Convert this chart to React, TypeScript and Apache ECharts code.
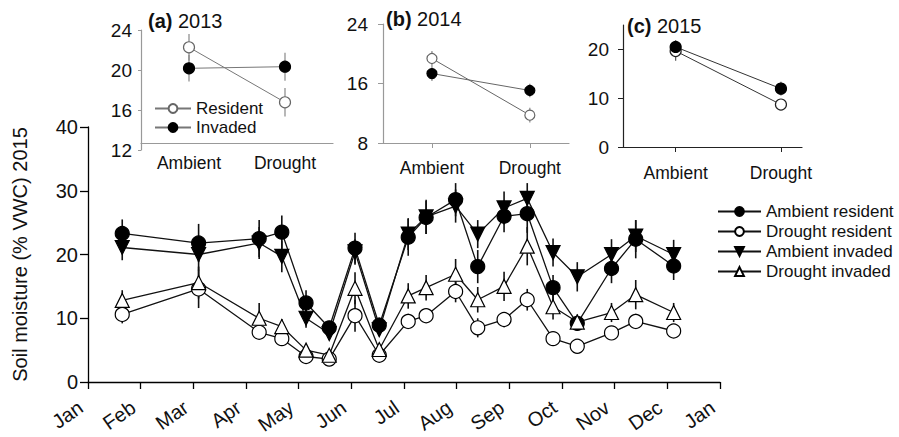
import React, { useEffect, useRef } from 'react';
import * as echarts from 'echarts';

const FONT = '"Liberation Sans", Arial, Helvetica, sans-serif';

// ---- main panel data ----
const monthTickLabels = ['Jan', 'Feb', 'Mar', 'Apr', 'May', 'Jun', 'Jul', 'Aug', 'Sep', 'Oct', 'Nov', 'Dec', 'Jan'];
// sampling dates as fractional months since 1 Jan
const sampleMonths = [0.65, 2.1, 3.25, 3.68, 4.14, 4.58, 5.07, 5.53, 6.08, 6.42, 6.98, 7.4, 7.9, 8.34, 8.83, 9.29, 9.94, 10.4, 11.12];

const ambientResident = [23.3, 21.8, 22.5, 23.5, 12.4, 8.5, 21.0, 8.9, 22.7, 25.8, 28.6, 18.1, 26.0, 26.4, 14.8, 9.2, 17.8, 22.4, 18.2];
const ambientResidentSE = [2.2, 3.0, 2.9, 2.6, 2.0, 1.0, 2.4, 1.2, 2.9, 2.6, 2.6, 2.6, 2.5, 3.0, 2.0, 1.2, 2.3, 3.0, 2.2];
const droughtResident = [10.6, 14.6, 7.8, 6.8, 4.0, 3.6, 10.4, 4.2, 9.5, 10.4, 14.2, 8.5, 9.8, 12.9, 6.8, 5.6, 7.7, 9.5, 8.0];
const droughtResidentSE = [1.4, 3.0, 1.0, 1.0, 0.6, 0.5, 2.5, 0.6, 1.2, 1.0, 1.7, 1.5, 1.2, 1.7, 1.0, 0.6, 1.0, 1.2, 1.0];
const ambientInvaded = [21.1, 20.0, 21.8, 19.7, 10.0, 7.6, 20.4, 8.2, 23.2, 25.9, 27.6, 23.2, 27.3, 28.8, 20.3, 16.5, 20.0, 22.9, 20.0];
const ambientInvadedSE = [2.0, 2.5, 2.5, 2.5, 1.5, 1.0, 2.0, 1.0, 2.5, 2.7, 2.6, 2.2, 2.6, 2.4, 2.2, 2.3, 2.4, 2.5, 2.3];
const droughtInvaded = [12.8, 15.6, 10.0, 8.7, 5.0, 4.2, 14.7, 5.1, 13.5, 14.8, 16.9, 12.9, 15.0, 21.3, 11.8, 9.4, 10.9, 13.7, 10.9];
const droughtInvadedSE = [1.6, 2.5, 2.4, 1.2, 0.8, 0.6, 2.5, 0.8, 2.0, 2.0, 2.4, 2.0, 2.3, 3.0, 2.0, 1.2, 1.5, 2.3, 1.5];

const yTitle = 'Soil moisture (% VWC) 2015';

// ---- inset data ----
const insetCategories = ['Ambient', 'Drought'];
const insetX = [1, 2];

const resident2013 = [22.27, 16.77];
const resident2013SE = [1.33, 1.43];
const invaded2013 = [20.17, 20.33];
const invaded2013SE = [1.33, 1.4];

const resident2014 = [19.36, 11.74];
const resident2014SE = [1.0, 1.0];
const invaded2014 = [17.34, 15.06];
const invaded2014SE = [1.0, 0.9];

const resident2015 = [19.67, 8.7];
const resident2015SE = [2.0, 1.1];
const invaded2015 = [20.5, 11.96];
const invaded2015SE = [1.4, 1.4];

const ticks2013 = [12, 16, 20, 24];
const ticks2014 = [8, 16, 24];
const ticks2015 = [0, 10, 20];

function errorSeries(xIdx: number, yIdx: number, xs: number[], ys: number[], es: number[], color: string, width: number, z: number) {
  return {
    type: 'custom',
    xAxisIndex: xIdx,
    yAxisIndex: yIdx,
    z,
    silent: true,
    data: xs.map((x, i) => [x, ys[i], es[i]]),
    encode: { x: 0, y: 1 },
    renderItem: (params: any, api: any) => {
      const x = api.value(0);
      const y = api.value(1);
      const e = api.value(2);
      const a = api.coord([x, y - e]);
      const b = api.coord([x, y + e]);
      return {
        type: 'line',
        shape: { x1: a[0], y1: a[1], x2: b[0], y2: b[1] },
        style: { stroke: color, lineWidth: width },
      };
    },
  };
}

function lineSeries(name: string, xIdx: number, xs: number[], ys: number[], symbol: string, rotate: number, fill: string, border: string, lineColor: string, lineWidth: number, size: number) {
  return {
    type: 'line',
    name,
    xAxisIndex: xIdx,
    yAxisIndex: xIdx,
    z: 5,
    data: xs.map((x, i) => [x, ys[i]]),
    symbol,
    symbolRotate: rotate,
    symbolSize: size,
    showAllSymbol: true,
    color: lineColor,
    lineStyle: { color: lineColor, width: lineWidth },
    itemStyle: { color: fill, borderColor: border, borderWidth: 1.2, opacity: 1 },
    emphasis: { disabled: true },
  };
}

function buildOption() {
  const txt = '#111';
  const mainDefs = [
    { name: 'Ambient resident', v: ambientResident, e: ambientResidentSE, symbol: 'circle', rot: 0, fill: '#000' },
    { name: 'Drought resident', v: droughtResident, e: droughtResidentSE, symbol: 'circle', rot: 0, fill: '#fff' },
    { name: 'Ambient invaded', v: ambientInvaded, e: ambientInvadedSE, symbol: 'triangle', rot: 180, fill: '#000' },
    { name: 'Drought invaded', v: droughtInvaded, e: droughtInvadedSE, symbol: 'triangle', rot: 0, fill: '#fff' },
  ];

  const series: any[] = [];
  mainDefs.forEach((d) => {
    series.push(errorSeries(0, 0, sampleMonths, d.v, d.e, '#111', 1.6, 2));
  });
  mainDefs.forEach((d) => {
    series.push(lineSeries(d.name, 0, sampleMonths, d.v, d.symbol, d.rot, d.fill, '#000', '#111', 1.3, 14));
  });

  const insets = [
    { idx: 1, res: resident2013, resE: resident2013SE, inv: invaded2013, invE: invaded2013SE, line: '#777', err: '#888', size: 11 },
    { idx: 2, res: resident2014, resE: resident2014SE, inv: invaded2014, invE: invaded2014SE, line: '#666', err: '#888', size: 10 },
    { idx: 3, res: resident2015, resE: resident2015SE, inv: invaded2015, invE: invaded2015SE, line: '#333', err: '#555', size: 11 },
  ];
  insets.forEach((s) => {
    series.push(errorSeries(s.idx, s.idx, insetX, s.res, s.resE, s.err, 1.2, 2));
    series.push(errorSeries(s.idx, s.idx, insetX, s.inv, s.invE, s.err, 1.2, 2));
    series.push(lineSeries('Resident', s.idx, insetX, s.res, 'circle', 0, '#fff', s.idx === 3 ? '#222' : '#666', s.line, 1, s.size));
    series.push(lineSeries('Invaded', s.idx, insetX, s.inv, 'circle', 0, '#000', '#000', s.line, 1, s.size));
  });

  const insetXAxis = (gridIndex: number, max: number, color: string, offset: number, margin: number, showTick: boolean) => ({
    type: 'value',
    gridIndex,
    min: 0.5,
    max,
    offset,
    splitLine: { show: false },
    axisLine: { show: true, onZero: false, lineStyle: { color, width: 1.2 } },
    axisTick: { show: showTick, customValues: insetX, inside: false, length: 5, lineStyle: { color } },
    axisLabel: {
      customValues: insetX,
      formatter: (v: number) => insetCategories[Math.round(v) - 1] || '',
      fontSize: 17.5,
      fontFamily: FONT,
      color: txt,
      margin,
    },
  });

  const insetYAxis = (gridIndex: number, min: number, max: number, ticks: number[], color: string, margin: number, tickLen: number) => ({
    type: 'value',
    gridIndex,
    min,
    max,
    splitLine: { show: false },
    axisLine: { show: true, onZero: false, lineStyle: { color, width: 1.2 } },
    axisTick: { show: true, customValues: ticks, length: tickLen, lineStyle: { color } },
    axisLabel: { customValues: ticks, fontSize: 19, fontFamily: FONT, color: txt, margin },
  });

  return {
    animation: false,
    backgroundColor: '#fff',
    textStyle: { fontFamily: FONT },
    title: [
      { text: '{b|(a)} 2013', left: 148, top: 11, padding: 0, textStyle: { fontSize: 20, fontWeight: 'normal', fontFamily: FONT, color: txt, rich: { b: { fontSize: 20, fontWeight: 'bold', fontFamily: FONT, color: txt } } } },
      { text: '{b|(b)} 2014', left: 386, top: 9, padding: 0, textStyle: { fontSize: 20, fontWeight: 'normal', fontFamily: FONT, color: txt, rich: { b: { fontSize: 20, fontWeight: 'bold', fontFamily: FONT, color: txt } } } },
      { text: '{b|(c)} 2015', left: 627, top: 16, padding: 0, textStyle: { fontSize: 20, fontWeight: 'normal', fontFamily: FONT, color: txt, rich: { b: { fontSize: 20, fontWeight: 'bold', fontFamily: FONT, color: txt } } } },
    ],
    legend: [
      {
        data: mainDefs.map((d) => d.name),
        orient: 'vertical',
        left: 717,
        top: 203,
        padding: 0,
        itemWidth: 43,
        itemHeight: 11,
        itemGap: 3,
        selectedMode: false,
        textStyle: { fontSize: 17, lineHeight: 17, fontFamily: FONT, color: txt },
      },
      {
        data: ['Resident', 'Invaded'],
        orient: 'vertical',
        left: 154,
        top: 100,
        padding: 0,
        itemWidth: 36,
        itemHeight: 11,
        itemGap: 2,
        selectedMode: false,
        textStyle: { fontSize: 17, lineHeight: 17, fontFamily: FONT, color: txt },
      },
    ],
    grid: [
      { left: 88, top: 127, width: 632, height: 255, outerBoundsMode: 'none', containLabel: false },
      { left: 141, top: 30, width: 192, height: 120, outerBoundsMode: 'none', containLabel: false },
      { left: 383, top: 24, width: 186, height: 119, outerBoundsMode: 'none', containLabel: false },
      { left: 623, top: 25, width: 179, height: 122, outerBoundsMode: 'none', containLabel: false },
    ],
    xAxis: [
      {
        type: 'value',
        gridIndex: 0,
        min: 0,
        max: 12,
        interval: 1,
        splitLine: { show: false },
        axisLine: { show: true, onZero: false, lineStyle: { color: '#000', width: 1.3 } },
        axisTick: { show: true, length: 7, lineStyle: { color: '#000', width: 1.3 } },
        axisLabel: {
          rotate: 35,
          fontSize: 20,
          fontFamily: FONT,
          color: txt,
          margin: 18,
          padding: [0, 9, 0, 0],
          showMinLabel: true,
          showMaxLabel: true,
          formatter: (v: number) => monthTickLabels[Math.round(v)] || '',
        },
      },
      insetXAxis(1, 2.5, '#999', -7, 11, false),
      insetXAxis(2, 2.4, '#999', 0, 16, true),
      insetXAxis(3, 2.2, '#222', 0, 17, true),
    ],
    yAxis: [
      {
        type: 'value',
        gridIndex: 0,
        min: 0,
        max: 40,
        interval: 10,
        name: yTitle,
        nameLocation: 'middle',
        nameGap: 58,
        nameTextStyle: { fontSize: 20, fontFamily: FONT, color: txt },
        splitLine: { show: false },
        axisLine: { show: true, onZero: false, lineStyle: { color: '#000', width: 1.3 } },
        axisTick: { show: true, length: 8, lineStyle: { color: '#000', width: 1.3 } },
        axisLabel: { fontSize: 20, fontFamily: FONT, color: txt, margin: 10 },
      },
      insetYAxis(1, 12, 24, ticks2013, '#999', 9, 3),
      insetYAxis(2, 8, 24, ticks2014, '#999', 15, 5),
      insetYAxis(3, 0, 25, ticks2015, '#222', 14, 5),
    ],
    series,
  };
}

export default function App() {
  const ref = useRef<HTMLDivElement>(null);
  useEffect(() => {
    if (!ref.current) return;
    const chart = echarts.init(ref.current, undefined, { renderer: 'svg' });
    chart.setOption(buildOption() as any);
    return () => chart.dispose();
  }, []);
  return (
    <div
      ref={ref}
      style={{ position: 'fixed', left: 0, top: 0, width: 899, height: 437, background: '#fff' }}
    />
  );
}
